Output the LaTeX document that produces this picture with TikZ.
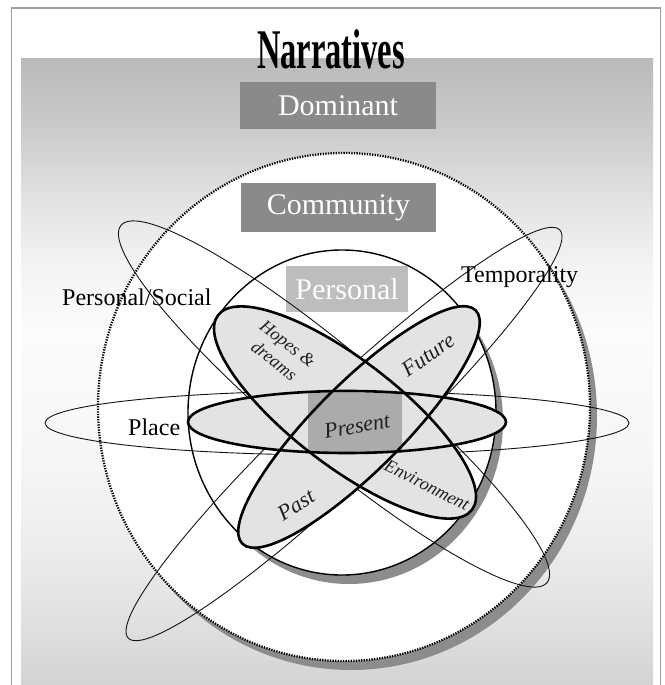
\documentclass[tikz,border=0pt]{standalone}
\usepackage{fontspec}
\setmainfont{Liberation Serif}[ItalicFont={Liberation Serif Italic}, BoldFont={Liberation Serif Bold}]
\definecolor{bandA}{gray}{0.83}
\definecolor{bandB}{gray}{0.88}
\definecolor{bandC}{gray}{0.93}
\definecolor{bandD}{gray}{0.965}
\definecolor{bandE}{gray}{0.985}
\definecolor{bandF}{gray}{0.96}
\definecolor{bandG}{gray}{0.89}
\definecolor{bandH}{gray}{0.80}
\definecolor{bandI}{gray}{0.73}
\definecolor{framegray}{gray}{0.62}
\definecolor{boxdark}{gray}{0.54}
\definecolor{boxlight}{gray}{0.74}
\definecolor{boxmid}{gray}{0.67}
\definecolor{shadowgray}{gray}{0.55}
\definecolor{petal}{gray}{0.89}
% vertical backdrop: grey at the top, white in the middle, grey again at the foot
\pgfdeclareverticalshading{bandshade}{100bp}{%
  color(0bp)=(bandA); color(25bp)=(bandA); color(30.18bp)=(bandB);
  color(36.55bp)=(bandC); color(42.9bp)=(bandD); color(53.3bp)=(bandE);
  color(58bp)=(bandF); color(63.6bp)=(bandG); color(69.2bp)=(bandH);
  color(75bp)=(bandI); color(100bp)=(bandI)}
\begin{document}
\begin{tikzpicture}[x=1pt,y=-1pt,
  thinring/.style={draw=black!92, line width=0.9pt},
  thickring/.style={draw=black, line width=2.6pt},
  dotring/.style={draw=black, line width=2.3pt, dash pattern=on 1.3pt off 1.3pt},
  axislabel/.style={font=\fontsize{24}{24}\selectfont, inner sep=0pt, anchor=base west},
  levelbox/.style={inner sep=0pt, text=white, font=\fontsize{30}{30}\selectfont},
  petallabel/.style={inner sep=0pt, text=black!88, font=\itshape\fontsize{#1}{#1}\selectfont},
]
\useasboundingbox (0,0) rectangle (664,685);
\fill[white] (0,0) rectangle (664,685);

% frame and shaded backdrop
\shade[shading=bandshade] (21,59) rectangle (653,685);
\draw[framegray, line width=1.2pt] (11.5,685) -- (11.5,8) -- (660.5,8) -- (660.5,685);

% title and outer level
\node[inner sep=0pt, anchor=base, font=\bfseries\fontsize{56}{56}\selectfont] (title) at (331,69) {\scalebox{0.58}[1]{Narratives}};
\node[levelbox, fill=boxdark, minimum width=196pt, minimum height=47pt] (dominant) at (338,105.5) {Dominant};

% community ring with drop shadow
\fill[shadowgray] (351,416) ellipse [x radius=246, y radius=254];
\fill[white] (344,407) ellipse [x radius=246, y radius=254];
\draw[dotring] (344,407) ellipse [x radius=246, y radius=254];
\node[levelbox, fill=boxdark, minimum width=195pt, minimum height=49pt] (community) at (338.5,207.5) {Community};

% personal ring with drop shadow
\fill[shadowgray] (349,421.5) ellipse [x radius=154, y radius=162.5];
\fill[white] (342,412.5) ellipse [x radius=154, y radius=162.5];
\draw[black, line width=1.4pt] (342,412.5) ellipse [x radius=154, y radius=162.5];
\node[levelbox, fill=boxlight, minimum width=122pt, minimum height=46pt] (personal) at (347,289) {Personal};

% the three wide orbits
\draw[thinring] (337,423) ellipse [x radius=292, y radius=32];
\draw[thinring, rotate around={-40:(334,404)}] (334,404) ellipse [x radius=278, y radius=52];
\draw[thinring, rotate around={43.4:(344,434)}] (344,434) ellipse [x radius=297, y radius=45];

% the three inner petals: fills first, then outlines
\fill[petal] (347,422) ellipse [x radius=159, y radius=31];
\fill[petal, rotate around={-37.5:(345,412.5)}] (345,412.5) ellipse [x radius=160, y radius=53];
\fill[petal, rotate around={45:(359,427)}] (359,427) ellipse [x radius=165, y radius=44];
\node[inner sep=0pt, fill=boxmid, minimum width=94pt, minimum height=60pt] (presentbox) at (355,423) {};
\draw[thickring] (347,422) ellipse [x radius=159, y radius=31];
\draw[thickring, rotate around={-37.5:(345,412.5)}] (345,412.5) ellipse [x radius=160, y radius=53];
\draw[thickring, rotate around={45:(359,427)}] (359,427) ellipse [x radius=165, y radius=44];

% labels
\node[axislabel] (social) at (62,305) {Personal/Social};
\node[axislabel] (temporality) at (461,282) {Temporality};
\node[axislabel] (place) at (128,435) {Place};

\node[petallabel=22, rotate=10] (present) at (357,426) {Present};
\node[petallabel=18, rotate=-38, align=center, font=\itshape\fontsize{18}{22}\selectfont] (hopes) at (281,352) {Hopes \&\\dreams};
\node[petallabel=22, rotate=35] (future) at (428,355) {Future};
\node[petallabel=22, rotate=32] (past) at (296,505) {Past};
\node[petallabel=18, rotate=-27] (environment) at (427,485) {Environment};
\end{tikzpicture}
\end{document}
